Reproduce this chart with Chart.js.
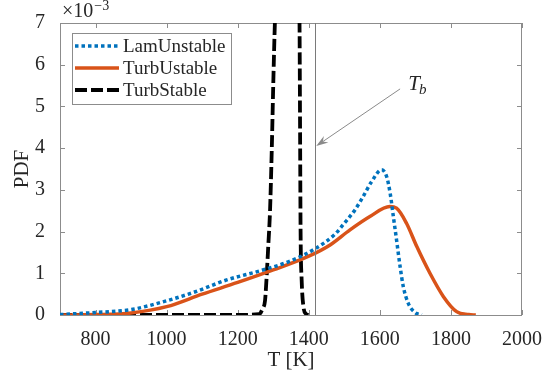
<!DOCTYPE html>
<html>
<head>
<meta charset="utf-8">
<script src="https://cdn.jsdelivr.net/npm/chart.js@4"></script>
<style>
  html, body { margin: 0; padding: 0; background: #fff; }
  #wrap { width: 560px; height: 379px; }
</style>
</head>
<body>
<div id="wrap"><canvas id="pdfChart" width="560" height="379"></canvas></div>
<script>
// --- Daten (PDF in Einheiten von 10^-3) ---

const lamTemp = [700, 800, 900, 1000, 1075, 1169, 1263, 1350, 1420, 1474, 1500, 1530, 1553, 1577, 1605, 1619, 1629, 1638, 1647, 1657, 1666, 1680, 1699, 1718];
const lamPdf  = [0.01, 0.06, 0.13, 0.34, 0.54, 0.84, 1.06, 1.3, 1.6, 1.94, 2.2, 2.52, 2.84, 3.2, 3.48, 3.32, 2.92, 2.36, 1.8, 1.16, 0.68, 0.28, 0.06, 0.0];

const turbUTemp = [700, 800, 900, 1000, 1100, 1200, 1300, 1400, 1460, 1516, 1572, 1628, 1647, 1675, 1704, 1741, 1779, 1816, 1850, 1870];
const turbUPdf  = [0.0, 0.01, 0.05, 0.2, 0.5, 0.78, 1.08, 1.41, 1.68, 2.04, 2.36, 2.6, 2.56, 2.2, 1.64, 1.0, 0.44, 0.08, 0.01, 0.0];

const turbSTemp = [700, 1000, 1200, 1260, 1270, 1277, 1281, 1286, 1291, 1296, 1300, 1305, 1315, 1340, 1365, 1372, 1374, 1375.5, 1377, 1380, 1385, 1392, 1399];
const turbSPdf  = [0.0, 0.0, 0.0, 0.02, 0.15, 0.35, 0.85, 1.65, 2.5, 4.0, 5.5, 7.1, 9.0, 10.5, 9.0, 7.8, 7.0, 4.5, 2.0, 0.84, 0.2, 0.03, 0.0];

const seriesLabels = ["LamUnstable", "TurbUstable", "TurbStable"];
const tempTicks = [800, 1000, 1200, 1400, 1600, 1800, 2000];
const pdfTicks = [0, 1, 2, 3, 4, 5, 6, 7];
const tempBurnt = 1418; // T_b

// --- Hilfsfunktionen ---

function toPoints(xs, ys) {
    return xs.map((x, i) => ({ x: x, y: ys[i] }));
}

const serif = "'Liberation Serif', 'DejaVu Serif', serif";
const axisGray = "#8c8c8c";
const textColor = "#262626";

// Achsenrahmen, Ticks nach innen, Legende, T_b-Linie und Pfeil
const decorPlugin = {
    id: "decor",
    beforeDatasetsDraw(chart) {
        const { ctx, chartArea: a, scales } = chart;
        ctx.save();
        ctx.strokeStyle = axisGray;
        ctx.lineWidth = 1;
        ctx.strokeRect(a.left + 0.5, a.top + 0.5, a.right - a.left - 1, a.bottom - a.top);
        ctx.beginPath();
        tempTicks.forEach(t => {
            const x = Math.round(scales.x.getPixelForValue(t)) + 0.5;
            ctx.moveTo(x, a.bottom); ctx.lineTo(x, a.bottom - 5);
            ctx.moveTo(x, a.top); ctx.lineTo(x, a.top + 5);
        });
        pdfTicks.forEach(p => {
            const y = Math.round(scales.y.getPixelForValue(p)) + 0.5;
            ctx.moveTo(a.left, y); ctx.lineTo(a.left + 5, y);
            ctx.moveTo(a.right, y); ctx.lineTo(a.right - 5, y);
        });
        ctx.stroke();
        ctx.restore();
    },
    afterDatasetsDraw(chart) {
        const { ctx, chartArea: a, scales } = chart;
        ctx.save();

        // T_b Linie
        const xb = Math.round(scales.x.getPixelForValue(tempBurnt)) + 0.5;
        ctx.strokeStyle = "#7a7a7a";
        ctx.lineWidth = 1;
        ctx.beginPath();
        ctx.moveTo(xb, a.top);
        ctx.lineTo(xb, a.bottom);
        ctx.stroke();

        // Pfeil
        const x0 = scales.x.getPixelForValue(1657), y0 = scales.y.getPixelForValue(5.42);
        const x1 = scales.x.getPixelForValue(1421), y1 = scales.y.getPixelForValue(4.05);
        const ang = Math.atan2(y1 - y0, x1 - x0);
        ctx.strokeStyle = "#8a8a8a";
        ctx.fillStyle = "#8a8a8a";
        ctx.beginPath();
        ctx.moveTo(x0, y0);
        ctx.lineTo(x1 - 8 * Math.cos(ang), y1 - 8 * Math.sin(ang));
        ctx.stroke();
        ctx.beginPath();
        ctx.moveTo(x1, y1);
        ctx.lineTo(x1 - 12 * Math.cos(ang) + 4 * Math.sin(ang), y1 - 12 * Math.sin(ang) - 4 * Math.cos(ang));
        ctx.lineTo(x1 - 8 * Math.cos(ang), y1 - 8 * Math.sin(ang));
        ctx.lineTo(x1 - 12 * Math.cos(ang) - 4 * Math.sin(ang), y1 - 12 * Math.sin(ang) + 4 * Math.cos(ang));
        ctx.closePath();
        ctx.fill();

        // T_b Beschriftung
        const xt = scales.x.getPixelForValue(1680), yt = scales.y.getPixelForValue(5.4);
        ctx.fillStyle = textColor;
        ctx.textBaseline = "alphabetic";
        ctx.textAlign = "left";
        ctx.font = "italic 21px " + serif;
        ctx.fillText("T", xt, yt);
        const wT = ctx.measureText("T").width;
        ctx.font = "italic 15px " + serif;
        ctx.fillText("b", xt + wT - 1, yt + 4);

        // Exponent oben links
        ctx.font = "20px " + serif;
        ctx.fillText("\u00d710", a.left + 2, 17);
        const wE = ctx.measureText("\u00d710").width;
        ctx.font = "14px " + serif;
        ctx.fillText("\u22123", a.left + 3 + wE, 10);

        // Legende
        const lx = 72.5, ly = 33.5, lw = 159, lh = 71;
        ctx.fillStyle = "#fff";
        ctx.fillRect(lx, ly, lw, lh);
        ctx.strokeStyle = axisGray;
        ctx.lineWidth = 1;
        ctx.strokeRect(lx, ly, lw, lh);
        const rows = [46, 68, 90];
        chart.data.datasets.forEach((ds, i) => {
            ctx.save();
            ctx.strokeStyle = ds.borderColor;
            ctx.lineWidth = ds.borderWidth;
            ctx.setLineDash(ds.borderDash || []);
            ctx.beginPath();
            ctx.moveTo(75, rows[i]);
            ctx.lineTo(119, rows[i]);
            ctx.stroke();
            ctx.restore();
            ctx.fillStyle = textColor;
            ctx.font = "19px " + serif;
            ctx.textBaseline = "middle";
            ctx.fillText(ds.label, 123, rows[i] + 1);
        });
        ctx.restore();
    }
};

document.addEventListener("DOMContentLoaded", function() {
    const ctx = document.getElementById("pdfChart").getContext("2d");
    new Chart(ctx, {
        type: "line",
        data: {
            datasets: [{
                label: seriesLabels[0],
                data: toPoints(lamTemp, lamPdf),
                borderColor: "#0072BD",
                borderWidth: 3.5,
                borderDash: [3.5, 3],
                borderCapStyle: "butt"
            }, {
                label: seriesLabels[1],
                data: toPoints(turbUTemp, turbUPdf),
                borderColor: "#D95319",
                borderWidth: 3.5
            }, {
                label: seriesLabels[2],
                data: toPoints(turbSTemp, turbSPdf),
                borderColor: "#000000",
                borderWidth: 3.8,
                borderDash: [12, 4]
            }]
        },
        options: {
            responsive: false,
            animation: false,
            layout: { padding: { top: 23, right: 38, left: 0, bottom: 0 } },
            elements: {
                point: { radius: 0 },
                line: { cubicInterpolationMode: "monotone", fill: false }
            },
            plugins: {
                legend: { display: false },
                tooltip: { enabled: false }
            },
            scales: {
                x: {
                    type: "linear",
                    min: 700,
                    max: 2000,
                    afterBuildTicks: (axis) => { axis.ticks = tempTicks.map(v => ({ value: v })); },
                    afterFit: (axis) => { axis.height = 64; },
                    grid: { display: false },
                    border: { display: false },
                    ticks: {
                        color: textColor,
                        font: { family: serif, size: 20 },
                        padding: 5,
                        maxRotation: 0,
                        callback: (v) => String(v)
                    },
                    title: {
                        display: true,
                        text: "T [K]",
                        color: textColor,
                        font: { family: serif, size: 21 },
                        padding: { top: 0, bottom: 6 }
                    }
                },
                y: {
                    min: 0,
                    max: 7,
                    afterBuildTicks: (axis) => { axis.ticks = pdfTicks.map(v => ({ value: v })); },
                    afterFit: (axis) => { axis.width = 60; },
                    grid: { display: false },
                    border: { display: false },
                    ticks: {
                        color: textColor,
                        font: { family: serif, size: 20 },
                        padding: 7,
                        callback: (v) => String(v)
                    },
                    title: {
                        display: true,
                        text: "PDF",
                        color: textColor,
                        font: { family: serif, size: 21 },
                        padding: { top: 10, bottom: 0 }
                    }
                }
            }
        },
        plugins: [decorPlugin]
    });
});
</script>
</body>
</html>
